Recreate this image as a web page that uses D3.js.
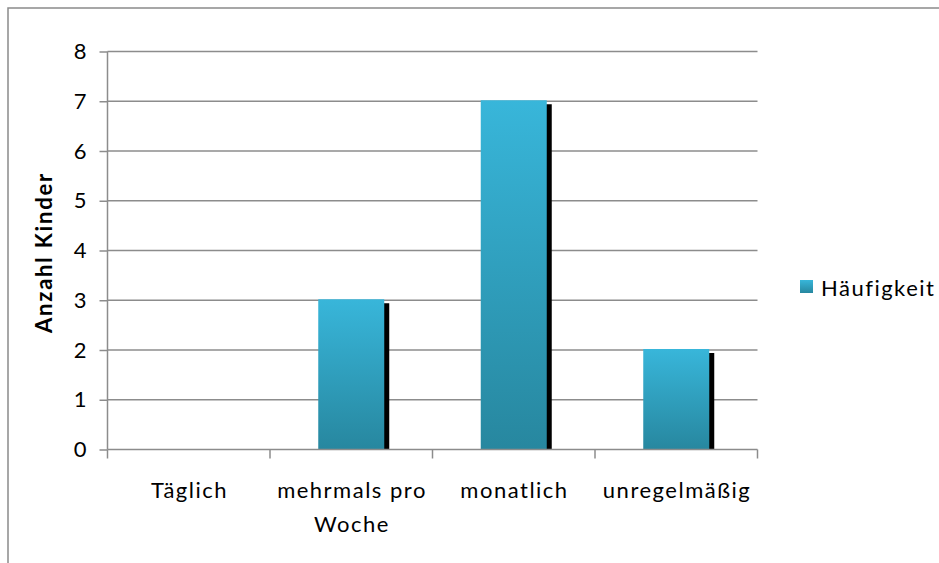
<!DOCTYPE html>
<html><head><meta charset="utf-8">
<script src="https://cdn.jsdelivr.net/npm/d3@7/dist/d3.min.js"></script>
<style>body{margin:0;background:#fff}svg{display:block}text{font-family:Lato,"Open Sans",sans-serif}</style>
</head><body>
<svg id="c" width="939" height="563"></svg>
<script>
const categories = [["Täglich"], ["mehrmals pro", "Woche"], ["monatlich"], ["unregelmäßig"]];
const values = [0, 3, 7, 2];
const yTicks = [0, 1, 2, 3, 4, 5, 6, 7, 8];
const seriesName = "Häufigkeit";
const yTitle = "Anzahl Kinder";

const FS = 22, LS = 1.5;
const svg = d3.select("#c");
const defs = svg.append("defs");
const g1 = defs.append("linearGradient").attr("id","bg").attr("x1",0).attr("y1",0).attr("x2",0).attr("y2",1);
g1.append("stop").attr("offset","0%").attr("stop-color","#38b6da");
g1.append("stop").attr("offset","100%").attr("stop-color","#27879f");
const g2 = defs.append("linearGradient").attr("id","lg").attr("x1",0).attr("y1",0).attr("x2",0).attr("y2",1);
g2.append("stop").attr("offset","0%").attr("stop-color","#38b6da");
g2.append("stop").attr("offset","100%").attr("stop-color","#27879f");

svg.append("rect").attr("x",8).attr("y",8).attr("width",960).attr("height",600)
  .attr("fill","none").attr("stroke","#8a8a8a").attr("stroke-width",1.5);

const L = 107.5, R = 757.5, T = 51.5, B = 449.5;
const x = d3.scaleBand().domain(d3.range(categories.length)).range([L, R]);
const y = d3.scaleLinear().domain([0, 8]).range([B, T]);

// gridlines
svg.append("g").selectAll("line").data(yTicks.filter(d=>d>0)).join("line")
  .attr("x1",L).attr("x2",R).attr("y1",d=>y(d)).attr("y2",d=>y(d))
  .attr("stroke","#8c8c8c").attr("stroke-width",1.5);

// y axis
const ya = svg.append("g").attr("transform",`translate(${L},0)`)
  .call(d3.axisLeft(y).tickValues(yTicks).tickSize(8).tickPadding(13));
ya.select(".domain").attr("stroke","#8c8c8c").attr("stroke-width",1.5).attr("d",`M0,${T}V${B}`);
ya.selectAll(".tick line").attr("stroke","#8c8c8c").attr("stroke-width",1.5);
ya.selectAll(".tick text").attr("font-size",FS).attr("fill","#000").attr("font-family","Lato");

// bars with shadow
const bw = 66;
const bars = svg.append("g");
values.forEach((v,i)=>{
  if (v<=0) return;
  const cx = x(i) + x.bandwidth()/2;
  bars.append("rect").attr("x",cx-bw/2+5).attr("y",y(v)+3).attr("width",bw).attr("height",B-y(v)-3).attr("fill","#000");
  bars.append("rect").attr("x",cx-bw/2).attr("y",y(v)-1).attr("width",bw).attr("height",B-y(v)+1).attr("fill","url(#bg)");
});

// x axis
svg.append("line").attr("x1",L).attr("x2",R).attr("y1",B).attr("y2",B).attr("stroke","#8c8c8c").attr("stroke-width",1.5);
const edges = d3.range(categories.length+1).map(i => i<categories.length ? x(i) : R);
svg.append("g").selectAll("line").data(edges).join("line")
  .attr("x1",d=>d).attr("x2",d=>d).attr("y1",B).attr("y2",B+9)
  .attr("stroke","#8c8c8c").attr("stroke-width",1.5);
const xl = svg.append("g").selectAll("text").data(categories).join("text")
  .attr("x",(d,i)=>x(i)+x.bandwidth()/2 + LS/2).attr("y",498)
  .attr("text-anchor","middle").attr("font-size",FS).attr("letter-spacing",LS).attr("fill","#000");
xl.each(function(d){
  const t = d3.select(this);
  d.forEach((s,j)=>t.append("tspan").attr("x",t.attr("x")).attr("dy",j?34:0).text(s));
});

// y title
svg.append("text").attr("transform",`translate(52,${(T+B)/2+2}) rotate(-90)`)
  .attr("text-anchor","middle").attr("font-size",FS).attr("letter-spacing",1.8).attr("font-weight","bold").text(yTitle);

// legend
svg.append("rect").attr("x",800).attr("y",280).attr("width",13).attr("height",13).attr("fill","url(#lg)");
svg.append("text").attr("x",821).attr("y",296).attr("font-size",FS).attr("letter-spacing",LS).text(seriesName);
</script>
</body></html>
